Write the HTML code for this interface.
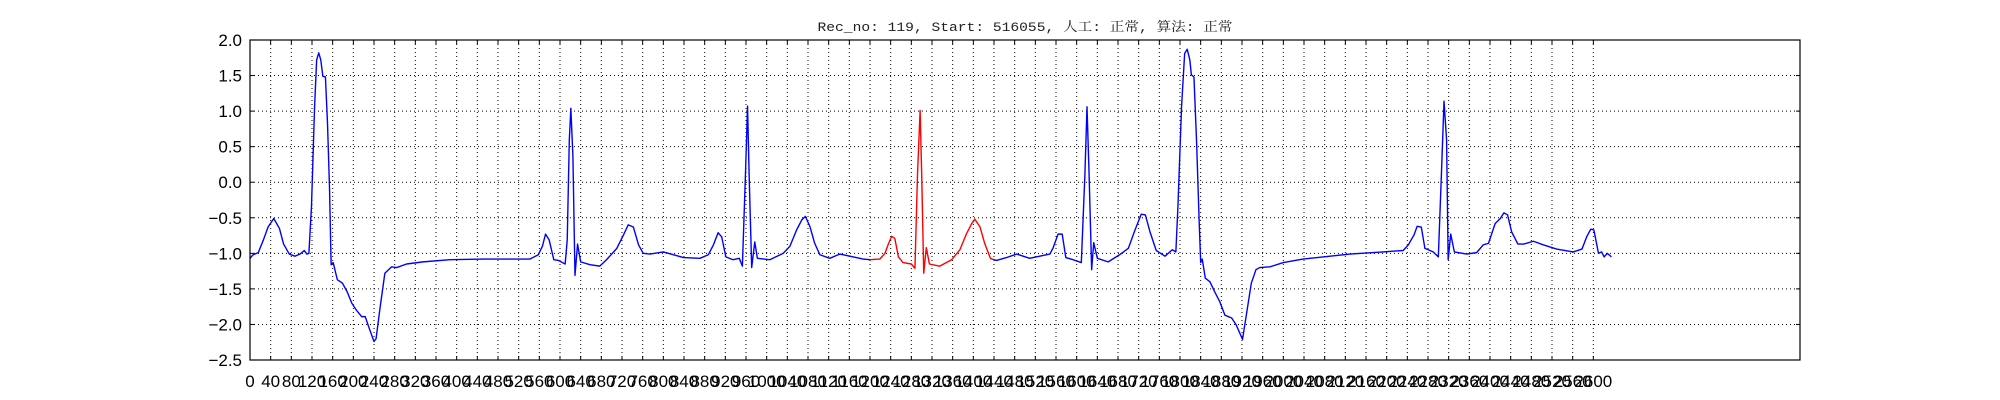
<!DOCTYPE html>
<html><head><meta charset="utf-8"><style>
html,body{margin:0;padding:0;background:#fff;}
svg{display:block;}
</style></head><body>
<svg id="chart" width="2000" height="400" xmlns="http://www.w3.org/2000/svg">
<rect x="0" y="0" width="2000" height="400" fill="#fff"/>
<text x="1025" y="31" text-anchor="middle" font-family="'Liberation Mono','Noto Serif CJK SC',serif" font-size="13" textLength="415" lengthAdjust="spacingAndGlyphs" fill="#222">Rec_no: 119, Start: 516055, 人工: 正常, 算法: 正常</text>
<g id="grid"></g>
<g id="series"></g>
<g id="axes"></g>
</svg>
<script>
const sampleIdx = [0,6,16,26,35,46,57,65,76,87,97,105,110,114,119,125,129,133,137,141,146,150,154,157,161,169,179,188,197,206,216,223,231,240,244,252,261,274,284,303,335,387,452,516,542,558,566,572,579,588,597,610,614,618,621,625,629,634,640,658,677,690,710,723,732,742,752,761,774,800,839,871,887,897,906,913,921,935,947,953,959,963,966,971,977,982,1006,1032,1045,1058,1068,1075,1084,1093,1103,1122,1142,1161,1187,1200,1219,1229,1235,1242,1248,1255,1264,1280,1287,1292,1297,1300,1304,1309,1315,1335,1358,1374,1387,1397,1403,1413,1422,1433,1440,1445,1464,1484,1509,1548,1554,1564,1572,1579,1593,1609,1616,1620,1624,1629,1633,1640,1661,1683,1700,1713,1725,1733,1742,1754,1771,1785,1792,1796,1803,1809,1814,1819,1822,1827,1832,1837,1840,1843,1849,1858,1867,1877,1887,1900,1909,1921,1929,1938,1947,1954,1974,2000,2038,2077,2129,2193,2232,2242,2253,2259,2267,2274,2290,2300,2306,2311,2316,2319,2324,2331,2355,2374,2387,2397,2410,2420,2427,2434,2442,2454,2465,2484,2503,2529,2561,2578,2587,2595,2601,2610,2616,2621,2627,2635];
const values = [-1.07,-1.02,-0.99,-0.81,-0.63,-0.51,-0.65,-0.87,-1.01,-1.04,-1.01,-0.96,-1.01,-1.00,-0.34,1.06,1.72,1.82,1.72,1.49,1.48,0.83,-0.11,-1.16,-1.13,-1.37,-1.42,-1.54,-1.70,-1.80,-1.89,-1.89,-2.06,-2.24,-2.20,-1.75,-1.28,-1.19,-1.20,-1.15,-1.12,-1.09,-1.08,-1.08,-1.08,-1.02,-0.90,-0.73,-0.81,-1.09,-1.10,-1.15,-0.81,0.59,1.04,0.36,-1.31,-0.87,-1.12,-1.16,-1.18,-1.09,-0.93,-0.74,-0.60,-0.63,-0.88,-1.00,-1.01,-0.98,-1.06,-1.07,-1.02,-0.88,-0.71,-0.77,-1.05,-1.09,-1.07,-1.18,0.12,1.07,0.12,-1.20,-0.84,-1.07,-1.09,-1.00,-0.90,-0.67,-0.53,-0.48,-0.63,-0.86,-1.02,-1.07,-1.01,-1.04,-1.08,-1.09,-1.08,-1.00,-0.88,-0.76,-0.79,-1.05,-1.13,-1.15,-1.21,0.12,1.01,0.12,-1.28,-0.92,-1.15,-1.18,-1.09,-0.95,-0.72,-0.58,-0.52,-0.63,-0.86,-1.07,-1.09,-1.10,-1.06,-1.01,-1.07,-1.01,-0.93,-0.73,-0.73,-1.06,-1.09,-1.13,0.12,1.06,0.12,-1.23,-0.85,-1.07,-1.12,-1.02,-0.93,-0.67,-0.45,-0.46,-0.70,-0.96,-1.04,-0.95,-0.98,-0.34,1.06,1.81,1.87,1.72,1.51,1.48,0.59,-0.53,-1.13,-1.08,-1.35,-1.40,-1.54,-1.68,-1.87,-1.91,-2.01,-2.21,-1.84,-1.42,-1.23,-1.20,-1.19,-1.13,-1.08,-1.05,-1.01,-0.98,-0.96,-0.88,-0.74,-0.62,-0.63,-0.93,-0.98,-1.05,0.12,1.14,0.59,-1.09,-0.73,-0.98,-1.01,-0.99,-0.88,-0.86,-0.58,-0.51,-0.43,-0.46,-0.70,-0.87,-0.87,-0.83,-0.88,-0.94,-0.98,-0.94,-0.77,-0.66,-0.67,-1.00,-0.98,-1.05,-1.00,-1.05];
const redRange = [1200, 1440];
const xTickValues = [];
for (let t = 0; t <= 2600; t += 40) xTickValues.push(t);
const yTickValues = [-2.5,-2.0,-1.5,-1.0,-0.5,0.0,0.5,1.0,1.5,2.0];

const L=250,R=1800,T=40,B=360, XMIN=0,XMAX=3000,YMIN=-2.5,YMAX=2.0;
const xs = v => L + (v-XMIN)/(XMAX-XMIN)*(R-L);
const ys = v => B - (v-YMIN)/(YMAX-YMIN)*(B-T);
const NS='http://www.w3.org/2000/svg';
const grid=document.getElementById('grid'), series=document.getElementById('series'), axes=document.getElementById('axes');
function mk(tag, attrs, parent){const e=document.createElementNS(NS,tag);for(const k in attrs)e.setAttribute(k,attrs[k]);parent.appendChild(e);return e;}

xTickValues.forEach(t=>{
  const x=xs(t);
  if(t>XMIN){
    const g=mk('line',{x1:x,y1:T,x2:x,y2:B,stroke:'#000','stroke-width':1,'stroke-dasharray':'1,3'},grid);
    
    
  }
  const tk=mk('line',{x1:x,y1:B,x2:x,y2:B-4,stroke:'#000','stroke-width':1},axes);
  
  
  const tk2=mk('line',{x1:x,y1:T,x2:x,y2:T+4,stroke:'#000','stroke-width':1},axes);
  
  
  const lb=mk('text',{x:x,y:387,'text-anchor':'middle','font-family':"'Liberation Sans',sans-serif",'font-size':17,fill:'#000'},axes);
  lb.textContent=String(t);
  
  
});
yTickValues.forEach(v=>{
  const y=ys(v);
  if(v>YMIN && v<YMAX){
    const g=mk('line',{x1:L,y1:y,x2:R,y2:y,stroke:'#000','stroke-width':1,'stroke-dasharray':'1,3'},grid);
    
    
  }
  const tk=mk('line',{x1:L,y1:y,x2:L+4,y2:y,stroke:'#000','stroke-width':1},axes);
  
  
  const tk2=mk('line',{x1:R,y1:y,x2:R-4,y2:y,stroke:'#000','stroke-width':1},axes);
  
  
  const lb=mk('text',{x:242,y:y+6,'text-anchor':'end','font-family':"'Liberation Sans',sans-serif",'font-size':17,fill:'#000'},axes);
  lb.textContent=(v<0?'\u2212':'')+Math.abs(v).toFixed(1);
  
  
});
const frame=mk('rect',{x:L,y:T,width:R-L,height:B-T,fill:'none',stroke:'#000','stroke-width':1.2},axes);



function pts(filter){return sampleIdx.map((s,i)=>[s,values[i]]).filter(p=>filter(p[0])).map(p=>xs(p[0]).toFixed(2)+','+ys(p[1]).toFixed(2)).join(' ');}
const b1=mk('polyline',{points:pts(s=>s<=redRange[0]),fill:'none',stroke:'#0000ff','stroke-width':1.4,'stroke-linejoin':'round'},series);


const rd=mk('polyline',{points:pts(s=>s>=redRange[0]&&s<=redRange[1]),fill:'none',stroke:'#ff0000','stroke-width':1.4,'stroke-linejoin':'round'},series);


const b2=mk('polyline',{points:pts(s=>s>=redRange[1]),fill:'none',stroke:'#0000ff','stroke-width':1.4,'stroke-linejoin':'round'},series);


</script>
</body></html>
